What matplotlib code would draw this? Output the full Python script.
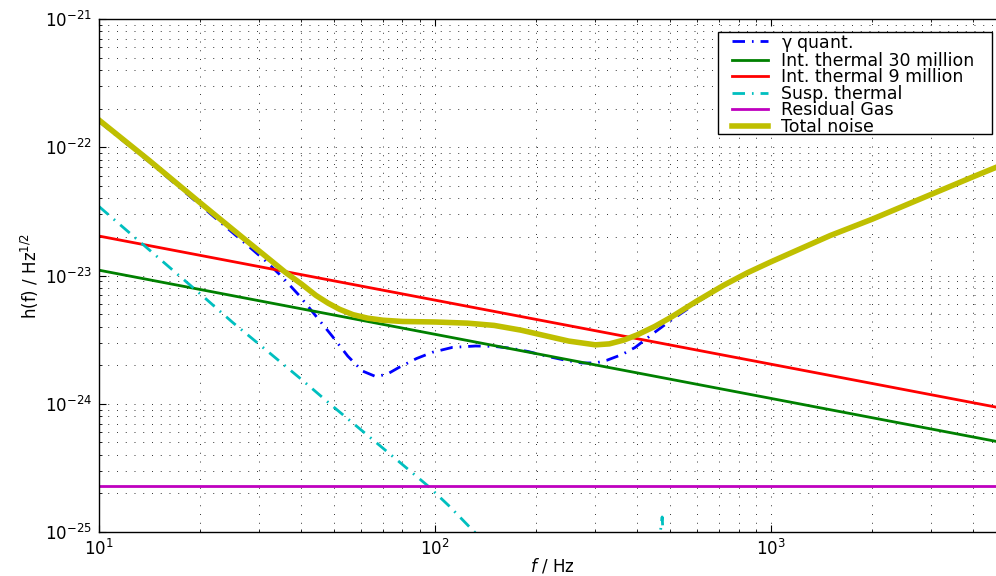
import numpy as np
import matplotlib
matplotlib.use('Agg')
import matplotlib.pyplot as plt
from matplotlib.patches import Rectangle
from matplotlib.ticker import LogLocator, NullFormatter

plt.rcParams['font.family'] = ['DejaVu Sans']
plt.rcParams['mathtext.fontset'] = 'dejavusans'
plt.rcParams['mathtext.default'] = 'regular'

# --- data (Hz, strain / sqrt(Hz)) ---
quant_f = [10, 14.1, 19.85, 27.95, 31.3, 35, 39.4, 44, 49.5, 55, 60.8, 66.6, 72,
           78.1, 88, 98.2, 112.6, 132, 150, 168, 190, 214.5, 245, 273.5, 300, 324,
           360, 394, 450, 502, 610, 723, 850, 1000, 1500, 2000, 3000, 4000, 5000]
quant_h = [1.59e-22, 7.7e-23, 3.6e-23, 1.68e-23, 1.3e-23, 9.8e-24, 7.0e-24, 4.9e-24,
           3.35e-24, 2.35e-24, 1.8e-24, 1.63e-24, 1.7e-24, 1.92e-24, 2.25e-24,
           2.52e-24, 2.75e-24, 2.82e-24, 2.8e-24, 2.71e-24, 2.55e-24, 2.35e-24,
           2.18e-24, 2.08e-24, 2.08e-24, 2.18e-24, 2.42e-24, 2.75e-24, 3.6e-24,
           4.45e-24, 6.3e-24, 8.35e-24, 1.045e-23, 1.275e-23, 2.045e-23, 2.745e-23,
           4.3e-23, 5.9e-23, 7.5e-23]

therm30_f = [10, 5000]
therm30_h = [1.10e-23, 4.92e-25]

therm9_f = [10, 5000]
therm9_h = [2.03e-23, 9.1e-25]

susp_f = [10, 15, 20, 25, 30, 40, 50, 70, 95, 110, 130, 150, 200, 300, 400, 455,
          466, 474, 482, 500, 700, 5000]
susp_h = [3.45e-23, 1.38e-23, 7.2e-24, 4.3e-24, 2.9e-24, 1.55e-24, 9.4e-25, 4.5e-25,
          2.3e-25, 1.6e-25, 1.02e-25, 7.3e-26, 3.9e-26, 1.6e-26, 1.0e-26, 3.0e-26,
          9.0e-26, 1.31e-25, 6.0e-26, 1.2e-26, 4e-27, 1e-28]

gas_f = [10, 5000]
gas_h = [2.3e-25, 2.3e-25]

total_f = [10, 14.1, 19.85, 27.95, 32, 36, 40, 44.2, 48, 52, 57, 63, 70, 80, 100,
           125, 150, 180, 214, 250, 300, 330, 365, 400, 450, 502, 600, 723, 850,
           1000, 1500, 2000, 3000, 4000, 5000]
total_h = [1.63e-22, 7.9e-23, 3.75e-23, 1.8e-23, 1.35e-23, 1.05e-23, 8.6e-24, 7.0e-24,
           6.1e-24, 5.45e-24, 4.95e-24, 4.65e-24, 4.48e-24, 4.38e-24, 4.34e-24,
           4.25e-24, 4.08e-24, 3.75e-24, 3.38e-24, 3.08e-24, 2.88e-24, 2.93e-24,
           3.14e-24, 3.45e-24, 4.0e-24, 4.7e-24, 6.3e-24, 8.4e-24, 1.05e-23,
           1.28e-23, 2.05e-23, 2.75e-23, 4.3e-23, 5.9e-23, 7.5e-23]

labels = ['$\\gamma$ quant.', 'Int. thermal 30 million', 'Int. thermal 9 million',
          'Susp. thermal', 'Residual Gas', 'Total noise']

W, H = 996, 576
fig = plt.figure(figsize=(W / 100, H / 100), dpi=100)
# right end of the axes (5 kHz) lies just outside the picture, as in the reference
ax = fig.add_axes([99 / W, 44 / H, 907 / W, 513 / H])

dashdot = (4.5, 2.5, 0.6, 2.5)
ax.loglog(quant_f, quant_h, color='#0000ff', lw=2, dashes=dashdot, label=labels[0])
ax.loglog(therm30_f, therm30_h, color='#008000', lw=2, label=labels[1])
ax.loglog(therm9_f, therm9_h, color='#ff0000', lw=2, label=labels[2])
ax.loglog(susp_f, susp_h, color='#00bfbf', lw=2, dashes=dashdot, label=labels[3])
ax.loglog(gas_f, gas_h, color='#bf00bf', lw=2, label=labels[4])
ax.loglog(total_f, total_h, color='#bfbf00', lw=4, label=labels[5])

ax.set_xlim(10, 5000)
ax.set_ylim(1e-25, 1e-21)

ax.xaxis.set_major_locator(LogLocator(base=10, numticks=10))
ax.xaxis.set_minor_locator(LogLocator(base=10, subs=np.arange(2, 10), numticks=20))
ax.yaxis.set_major_locator(LogLocator(base=10, numticks=10))
ax.yaxis.set_minor_locator(LogLocator(base=10, subs=np.arange(2, 10), numticks=20))
ax.xaxis.set_minor_formatter(NullFormatter())
ax.yaxis.set_minor_formatter(NullFormatter())

ax.grid(True, which='both', color='0.2', lw=0.7, linestyle=(0, (1, 8)))
ax.tick_params(which='both', direction='in', top=True, right=True, labelsize=12, pad=5)
ax.tick_params(which='major', length=5, width=0.8)
ax.tick_params(which='minor', length=2.5, width=0.6)
for s in ax.spines.values():
    s.set_linewidth(1.0)

ax.set_xlabel('$\\mathit{f}$ / Hz', fontsize=12)
ax.set_ylabel('h(f) / Hz$^{1/2}$', fontsize=12)
ax.xaxis.set_label_coords(0.5, -0.047)
ax.yaxis.set_label_coords(-0.064, 0.5)

# legend box (Matlab style: wide side padding, tight rows)
ax.add_patch(Rectangle((718 / W, 1 - 134 / H), 274 / W, 102 / H,
                       transform=fig.transFigure, facecolor='white',
                       edgecolor='black', lw=1.0, zorder=4, clip_on=False))
leg = ax.legend(loc='upper left', bbox_to_anchor=(732 / W, 1 - 32.5 / H),
                bbox_transform=fig.transFigure, fontsize=12.5, frameon=False,
                handlelength=2.1, labelspacing=-0.09, borderpad=0,
                handletextpad=0.7, borderaxespad=0)
leg.set_zorder(5)

fig.savefig('out.png', dpi=100)
